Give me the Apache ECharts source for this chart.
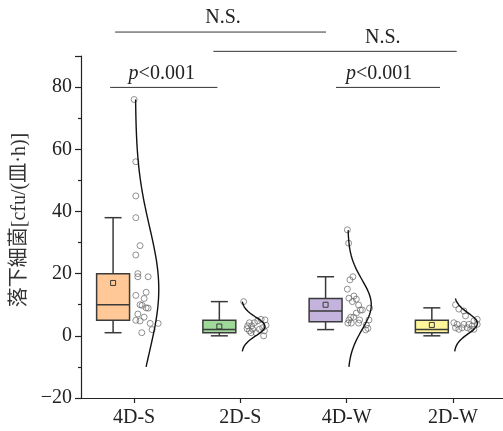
<!DOCTYPE html>
<html>
<head>
<meta charset="utf-8">
<script src="https://cdn.jsdelivr.net/npm/echarts@6/dist/echarts.min.js"></script>
<style>
html,body{margin:0;padding:0;background:#fff;}
#c{width:503px;height:431px;}
</style>
</head>
<body>
<div id="c"></div>
<script>
// ---------------- data ----------------
const categories = ['4D-S', '2D-S', '4D-W', '2D-W'];
const yTicks = [-20, 0, 20, 40, 60, 80];

// box statistics
const boxLow    = [1, 0, 2, 0];
const boxQ1     = [5, 1, 4.5, 1];
const boxMedian = [10, 2, 8, 2];
const boxQ3     = [20, 5, 12, 5];
const boxHigh   = [38, 11, 19, 9];
const boxMean   = [17, 3, 10, 3.5];

// raw points (values) and horizontal jitter (in category units)
const pts4DS = [76, 56, 45, 38, 29, 26, 20, 19, 19, 14, 13, 12, 10, 9.8, 9, 8.9, 7, 6, 5, 4.8, 4, 4, 2, 1];
const jit4DS = [0, .016, .016, .016, .056, .016, .035, .035, .132, .113, .016, .094, .056, .075, .113, .132, .035, .094, .016, .056, .151, .226, .169, .072];
const pts2DS = [11, 4.2, 3.2, 3.2, 2.1, 1.6, 2.3, 4.2, 4.8, 5.3, 5.1, 2.6, 1.6, 2.1, 1, 3.4, 0, 1];
const jit2DS = [.031, .085, .069, .106, .116, .085, .063, .132, .163, .195, .232, .210, .226, .179, .148, .242, .219, .101];
const pts4DW = [34.1, 29.8, 19, 18, 15, 12.1, 12.8, 11.8, 11, 9.9, 8.3, 8.3, 7.3, 6, 6, 5.1, 5.1, 8.9, 5.1, 4.1, 4.1, 4.1, 3.5, 2.4, 1.9];
const jit4DW = [.007, .019, .059, .031, .007, .022, .069, .091, .054, .113, .148, .129, .091, .038, .066, .022, .122, .216, .210, .044, .012, .113, .185, .200, .179];
const pts2DW = [10, 8.6, 8, 4.2, 3.7, 2.6, 2.1, 2.6, 3.7, 2.6, 3.7, 3.2, 4.8, 5.3, 2.1, 2.1, 3.7, 6.4];
const jit2DW = [.025, .056, .103, .009, .040, .025, .056, .087, .103, .135, .151, .182, .198, .229, .167, .198, .229, .119];
const pointSets = [[pts4DS, jit4DS], [pts2DS, jit2DS], [pts4DW, jit4DW], [pts2DW, jit2DW]];

// fitted normal distribution curves
const curveMean = [15, 3, 10, 4];
const curveSD   = [20, 3, 8, 3.3];
const curveLo   = [-10, -5, -10, -5];
const curveHi   = [76, 11, 34, 12];

// significance brackets: [x1, x2, yValue, labelX, label]
const brackets = [
  [-0.179, 1.806, 97.7, 0.837, 'N.S.'],
  [0.746, 3.036, 91.5, 2.34, 'N.S.'],
  [-0.226, 0.784, 79.9, 0.26, 'p<0.001'],
  [1.90, 2.879, 79.9, 2.305, 'p<0.001']
];

// ---------------- styles ----------------
const boxColors = ['#FFC896', '#9FD99A', '#C4B3DC', '#FFF59B'];
const boxOffset = -0.198, boxHalf = 0.155, capHalf = 0.08;
const curveBase = 0.012, curveAmp = 0.22;
const serif = "'Liberation Serif', 'Noto Sans CJK JP', serif";

const chart = echarts.init(document.getElementById('c'), null, {renderer: 'canvas'});

const boxData = categories.map((c, i) => [i, boxLow[i], boxQ1[i], boxMedian[i], boxQ3[i], boxHigh[i], boxMean[i]]);

function renderBox(params, api) {
  const i = api.value(0);
  const cx = i + boxOffset;
  const lo = api.value(1), q1 = api.value(2), med = api.value(3), q3 = api.value(4), hi = api.value(5), mean = api.value(6);
  const tl = api.coord([cx - boxHalf, q3]);
  const br = api.coord([cx + boxHalf, q1]);
  const cHi = api.coord([cx, hi]), cLo = api.coord([cx, lo]);
  const capL = api.coord([cx - capHalf, hi]), capR = api.coord([cx + capHalf, hi]);
  const capL2 = api.coord([cx - capHalf, lo]), capR2 = api.coord([cx + capHalf, lo]);
  const mL = api.coord([cx - boxHalf, med]), mR = api.coord([cx + boxHalf, med]);
  const mc = api.coord([cx, mean]);
  const lineStyle = {stroke: '#3a3a3a', lineWidth: 1.5, fill: null};
  return {
    type: 'group',
    children: [
      {type: 'line', shape: {x1: cHi[0], y1: cHi[1], x2: cHi[0], y2: tl[1]}, style: lineStyle},
      {type: 'line', shape: {x1: cLo[0], y1: cLo[1], x2: cLo[0], y2: br[1]}, style: lineStyle},
      {type: 'line', shape: {x1: capL[0], y1: capL[1], x2: capR[0], y2: capR[1]}, style: lineStyle},
      {type: 'line', shape: {x1: capL2[0], y1: capL2[1], x2: capR2[0], y2: capR2[1]}, style: lineStyle},
      {type: 'rect', shape: {x: tl[0], y: tl[1], width: br[0] - tl[0], height: br[1] - tl[1]},
        style: {fill: boxColors[i], stroke: '#3a3a3a', lineWidth: 1.5}},
      {type: 'line', shape: {x1: mL[0], y1: mL[1], x2: mR[0], y2: mR[1]}, style: lineStyle},
      {type: 'rect', shape: {x: mc[0] - 2.5, y: mc[1] - 2.5, width: 5, height: 5},
        style: {fill: 'none', stroke: '#3a3a3a', lineWidth: 1}}
    ]
  };
}

function renderBracket(params, api) {
  const b = brackets[params.dataIndex];
  const p1 = api.coord([b[0], b[2]]);
  const p2 = api.coord([b[1], b[2]]);
  const pl = api.coord([b[3], b[2]]);
  const isP = b[4].indexOf('p') === 0;
  return {
    type: 'group',
    children: [
      {type: 'line', shape: {x1: p1[0], y1: p1[1], x2: p2[0], y2: p2[1]}, style: {stroke: '#333', lineWidth: 1}},
      {type: 'text', x: pl[0], y: p1[1] - 4,
        style: isP ? {
          text: '{i|p}<0.001', rich: {i: {fontStyle: 'italic', fontFamily: serif, fontSize: 20, fill: '#222'}},
          fontFamily: serif, fontSize: 20, fill: '#222', align: 'center', verticalAlign: 'bottom'
        } : {
          text: b[4], fontFamily: serif, fontSize: 20, fill: '#222', align: 'center', verticalAlign: 'bottom'
        }}
    ]
  };
}

const series = [];
series.push({
  type: 'custom', xAxisIndex: 1, renderItem: renderBox, data: boxData, z: 2,
  encode: {x: 0, y: [1, 2, 3, 4, 5, 6]}
});
pointSets.forEach((ps, i) => {
  series.push({
    type: 'scatter', xAxisIndex: 1, z: 3, symbol: 'circle', symbolSize: 6,
    itemStyle: {color: 'rgba(255,255,255,0)', borderColor: '#666', borderWidth: 0.9},
    data: ps[0].map((v, k) => [i + ps[1][k], v]),
    silent: true
  });
});
categories.forEach((c, i) => {
  const data = [];
  const steps = 120;
  for (let k = 0; k <= steps; k++) {
    const v = curveLo[i] + (curveHi[i] - curveLo[i]) * k / steps;
    const z = (v - curveMean[i]) / curveSD[i];
    data.push([i + curveBase + curveAmp * Math.exp(-z * z / 2), v]);
  }
  series.push({
    type: 'line', xAxisIndex: 1, z: 4, data: data, showSymbol: false, symbol: 'none',
    lineStyle: {color: '#111', width: 1.4}, clip: false, silent: true
  });
});
series.push({
  type: 'custom', xAxisIndex: 1, renderItem: renderBracket, clip: false, z: 5,
  data: brackets.map(b => [b[0], b[2]]), encode: {x: 0, y: 1}
});

chart.setOption({
  animation: false,
  backgroundColor: '#fff',
  grid: {left: 81, right: -3, top: 56, bottom: 33, containLabel: false, outerBoundsMode: 'none'},
  xAxis: [
    {
      type: 'category', data: categories, boundaryGap: true,
      axisLine: {show: true, onZero: false, lineStyle: {color: '#222', width: 1.2}},
      axisTick: {show: true, alignWithLabel: true, length: 5, lineStyle: {color: '#222', width: 1.2}},
      axisLabel: {fontFamily: serif, fontSize: 20, color: '#222', margin: 10},
      splitLine: {show: false}
    },
    {
      type: 'value', min: -0.5, max: 3.5, show: false, splitLine: {show: false},
      axisLine: {onZero: false}
    }
  ],
  yAxis: {
    type: 'value', min: yTicks[0], max: 90, interval: 20,
    axisLine: {show: true, onZero: false, lineStyle: {color: '#222', width: 1.2}},
    axisTick: {show: true, length: 6, lineStyle: {color: '#222', width: 1.2}},
    minorTick: {show: true, splitNumber: 2, length: 3, lineStyle: {color: '#222', width: 1.2}},
    axisLabel: {fontFamily: serif, fontSize: 20, color: '#222', margin: 9, showMaxLabel: false,
      formatter: v => (yTicks.indexOf(v) < 0 ? '' : (v < 0 ? '\u2212' + Math.abs(v) : String(v)))},
    splitLine: {show: false},
    name: '落下細菌[cfu/(皿·h)]', nameLocation: 'middle', nameGap: 50, nameRotate: 90,
    nameTextStyle: {fontFamily: serif, fontSize: 20, color: '#333', padding: [0, 0, 0, 14]}
  },
  series: series
});
</script>
</body>
</html>
